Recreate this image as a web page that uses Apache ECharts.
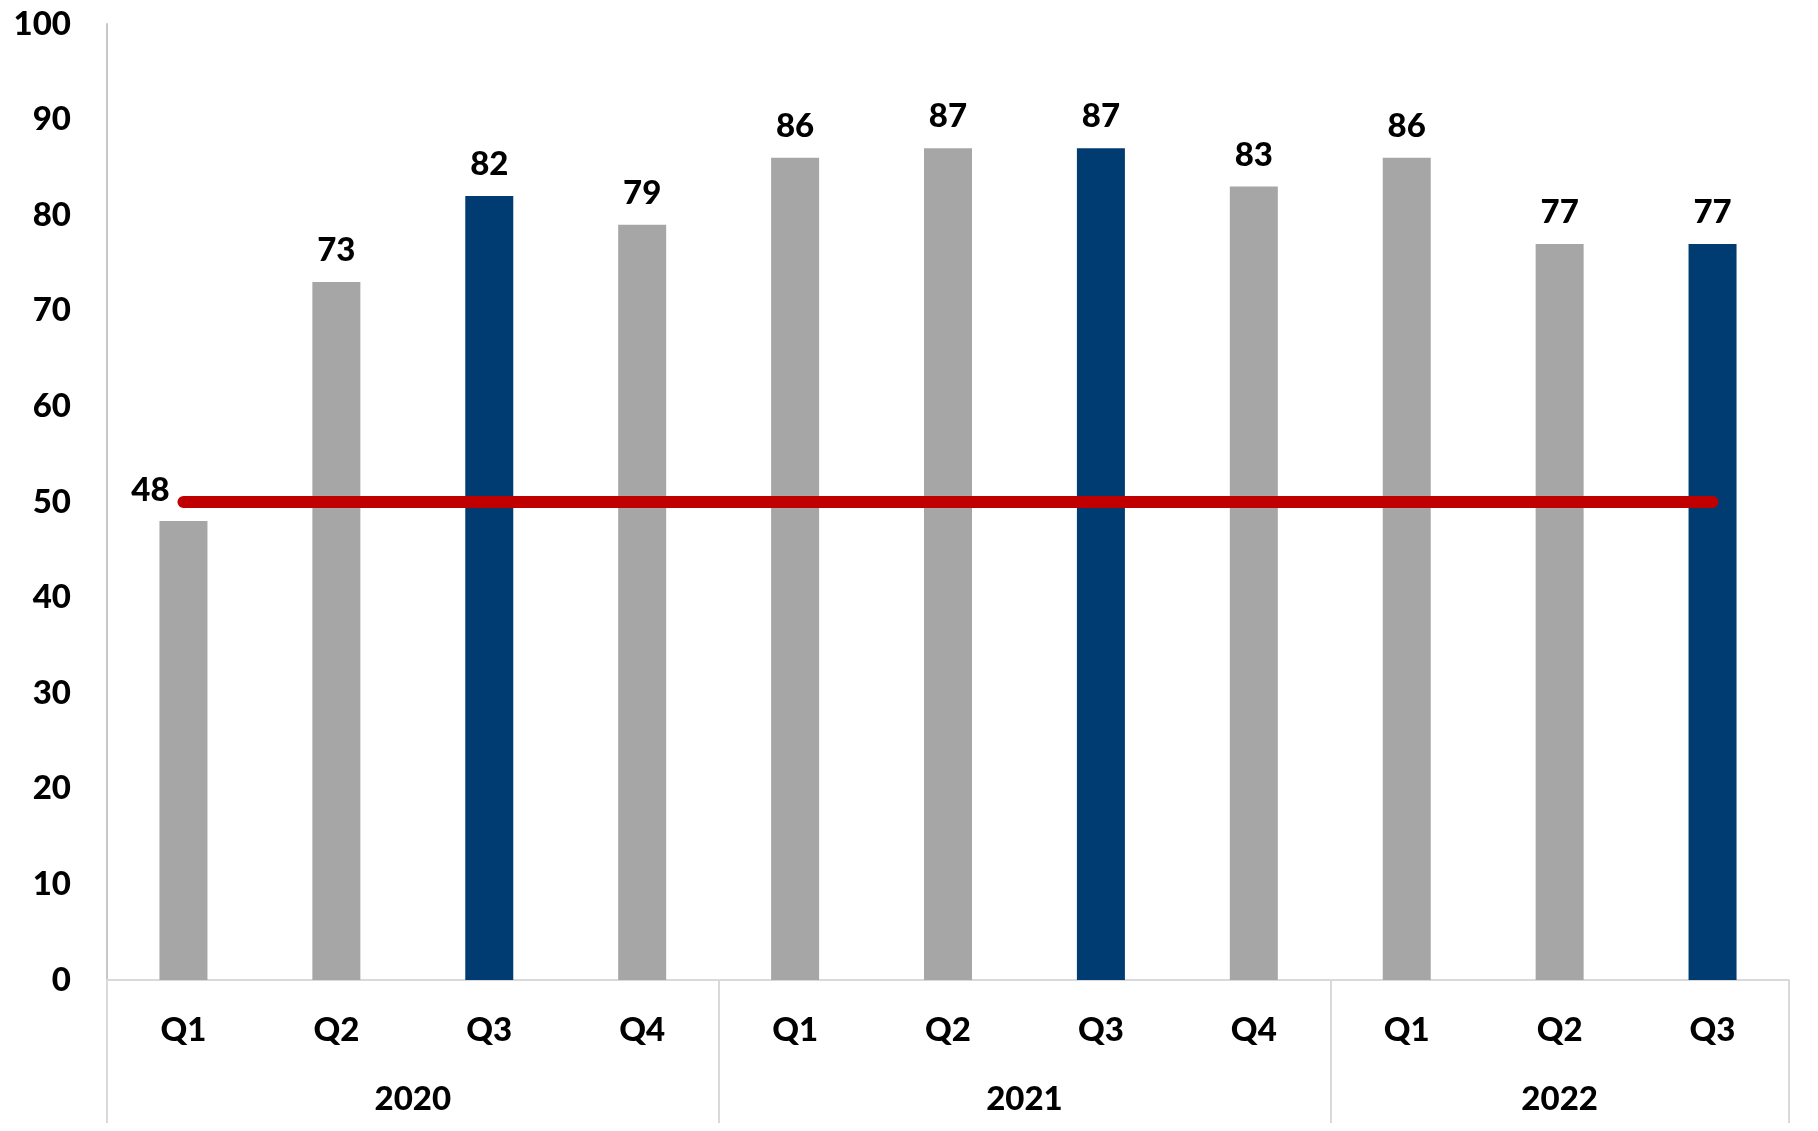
<!DOCTYPE html>
<html>
<head>
<meta charset="utf-8">
<script src="https://cdn.jsdelivr.net/npm/echarts@6/dist/echarts.min.js"></script>
<style>
html,body{margin:0;padding:0;background:#fff;}
#chart{width:1818px;height:1131px;}
</style>
</head>
<body>
<div id="chart"></div>
<script>
const quarters = ['Q1','Q2','Q3','Q4','Q1','Q2','Q3','Q4','Q1','Q2','Q3'];
const values = [48,73,82,79,86,87,87,83,86,77,77];
const threshold = [50,50,50,50,50,50,50,50,50,50,50];
const highlighted = [2,6,10];
const years = ['2020','2021','2022'];
const yearSizes = [4,4,3];
const yTicks = [0,10,20,30,40,50,60,70,80,90,100];

// half-slot axis for the year row (23 positions = 11 categories * 2 + 1)
const halfSlots = [];
const yearLabelAt = {};
const boundaryAt = new Set([0]);
let start = 0;
years.forEach((y, i) => {
  const end = start + yearSizes[i];
  yearLabelAt[start + end] = y; // center in half-slot units
  boundaryAt.add(end * 2);
  start = end;
});
for (let i = 0; i <= quarters.length * 2; i++) halfSlots.push(yearLabelAt[i] || '');

const FONT = 'Lato';
const W = 900;
const FS = 33;
const chart = echarts.init(document.getElementById('chart'));
chart.setOption({
  animation: false,
  grid: {left: 107, right: 29, top: 24, bottom: 151},
  xAxis: [{
    type: 'category',
    data: quarters,
    position: 'bottom',
    axisLine: {show: true, lineStyle: {color: '#D9D9D9', width: 2}},
    axisTick: {show: false},
    axisLabel: {margin: 34, fontFamily: FONT, fontWeight: W, fontSize: FS, color: '#000', lineHeight: 32}
  }, {
    type: 'category',
    data: halfSlots,
    position: 'bottom',
    boundaryGap: false,
    axisLine: {show: false},
    axisTick: {show: true, length: 143, interval: (i) => boundaryAt.has(i), lineStyle: {color: '#D9D9D9', width: 2}},
    axisLabel: {interval: 0, margin: 103, fontFamily: FONT, fontWeight: W, fontSize: FS, color: '#000', lineHeight: 32}
  }],
  yAxis: {
    type: 'value',
    min: 0, max: 100, interval: 10,
    axisLine: {show: true, lineStyle: {color: '#C8C8C8', width: 2}},
    axisTick: {show: false},
    splitLine: {show: false},
    axisLabel: {margin: 36, fontFamily: FONT, fontWeight: W, fontSize: FS, color: '#000',
      formatter: (v) => yTicks.includes(v) ? String(v) : ''}
  },
  series: [{
    type: 'bar',
    xAxisIndex: 0,
    barWidth: 48,
    data: values.map((v, i) => ({
      value: v,
      itemStyle: {color: highlighted.includes(i) ? '#003C71' : '#A6A6A6'},
      label: i === 0 ? {offset: [-33, 1]} : undefined
    })),
    label: {show: true, position: 'top', distance: 15, fontFamily: FONT, fontWeight: W, fontSize: FS, color: '#000'}
  }, {
    type: 'line',
    xAxisIndex: 0,
    data: threshold,
    showSymbol: false,
    symbol: 'none',
    z: 5,
    lineStyle: {color: '#C00000', width: 12, cap: 'round'}
  }]
});
</script>
</body>
</html>
